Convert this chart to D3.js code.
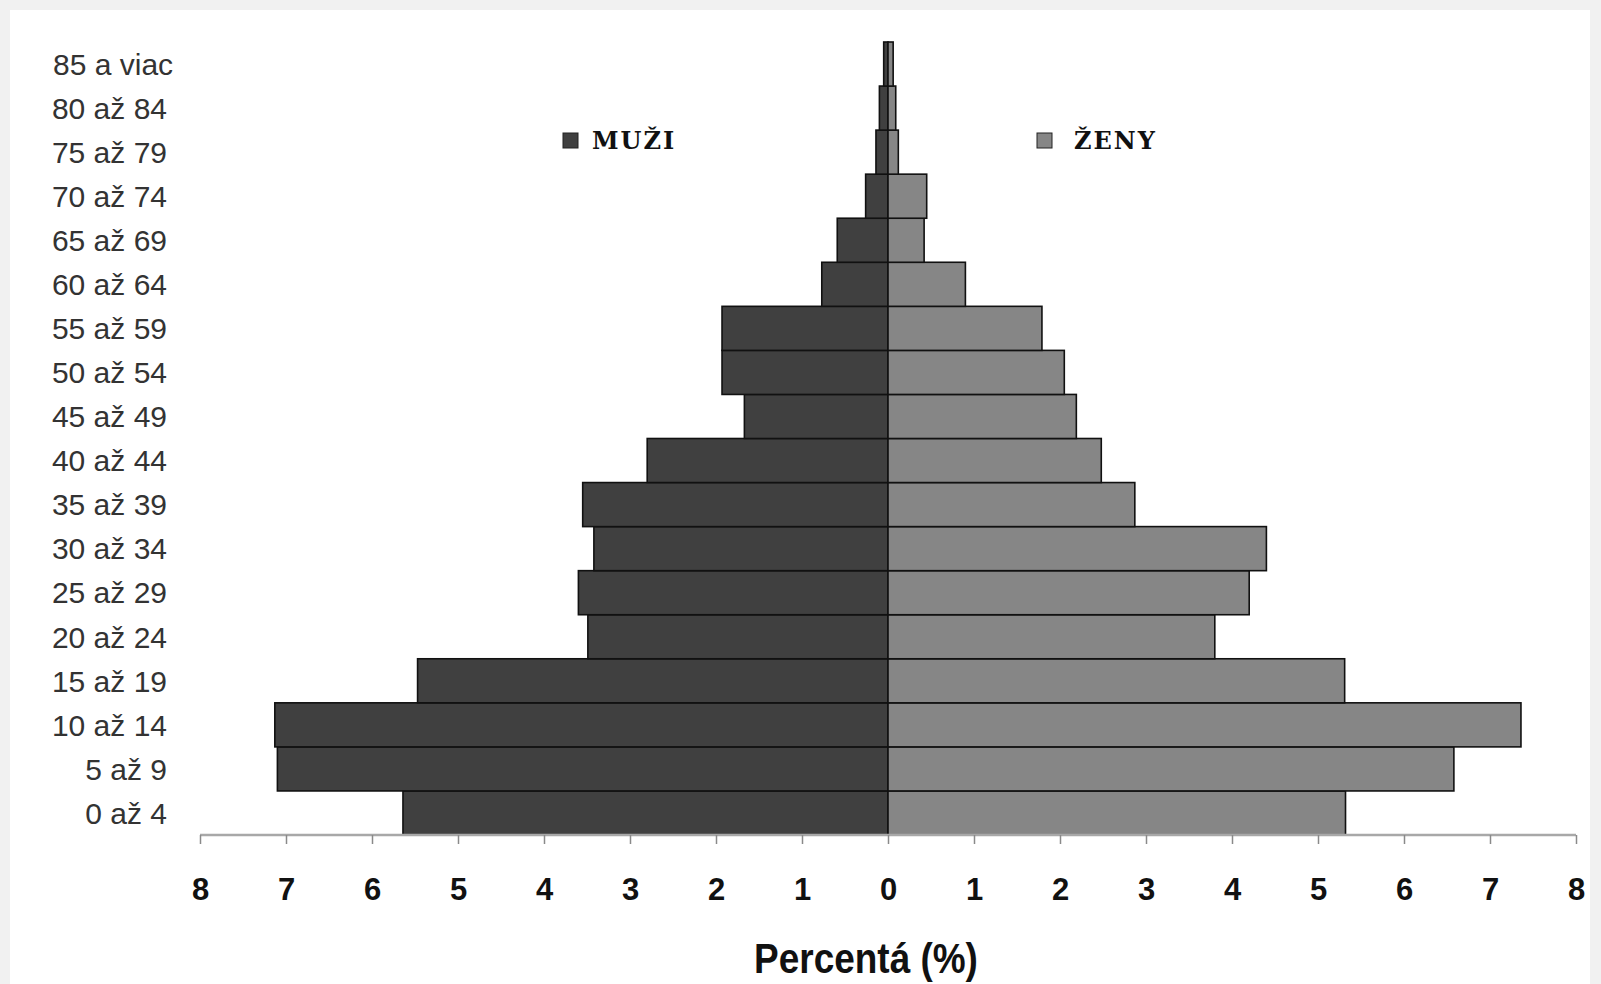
<!DOCTYPE html>
<html>
<head>
<meta charset="utf-8">
<script src="https://cdn.jsdelivr.net/npm/d3@7"></script>
<style>
  html, body { margin: 0; padding: 0; background: #f1f1f1; }
  svg { display: block; }
</style>
</head>
<body>
<svg id="chart" width="1601" height="984"></svg>
<script>
// Age groups, from youngest to oldest
const ageGroups = ["0 až 4","5 až 9","10 až 14","15 až 19","20 až 24","25 až 29","30 až 34","35 až 39","40 až 44","45 až 49","50 až 54","55 až 59","60 až 64","65 až 69","70 až 74","75 až 79","80 až 84","85 a viac"];
// Percent of population
const muzi = [5.64, 7.10, 7.13, 5.47, 3.49, 3.60, 3.42, 3.55, 2.80, 1.67, 1.93, 1.93, 0.77, 0.59, 0.26, 0.14, 0.10, 0.05];
const zeny = [5.32, 6.58, 7.36, 5.31, 3.80, 4.20, 4.40, 2.87, 2.48, 2.19, 2.05, 1.79, 0.90, 0.42, 0.45, 0.12, 0.09, 0.06];
const ticks = [-8,-7,-6,-5,-4,-3,-2,-1,0,1,2,3,4,5,6,7,8];
const seriesNames = ["MUŽI", "ŽENY"];
const axisTitle = "Percentá (%)";

const svg = d3.select("#chart");
// white panel
svg.append("rect").attr("x", 10).attr("y", 10).attr("width", 1580).attr("height", 974).attr("fill", "#ffffff");

const x = d3.scaleLinear().domain([-8, 8]).range([200, 1576]);
const y = d3.scaleBand().domain(ageGroups.slice().reverse()).range([42, 835]).padding(0);

const colM = "#404040", colZ = "#868686";
const sans = "'Liberation Sans Narrow', 'Liberation Sans', Arial, sans-serif";

const rows = ageGroups.map((g, i) => ({ g, m: muzi[i], z: zeny[i] }));

// men bars (left)
svg.append("g").selectAll("rect").data(rows).join("rect")
  .attr("x", d => x(-d.m))
  .attr("y", d => y(d.g))
  .attr("width", d => x(0) - x(-d.m))
  .attr("height", y.bandwidth())
  .attr("fill", colM)
  .attr("stroke", "#111")
  .attr("stroke-width", 1.6);

// women bars (right)
svg.append("g").selectAll("rect").data(rows).join("rect")
  .attr("x", x(0))
  .attr("y", d => y(d.g))
  .attr("width", d => x(d.z) - x(0))
  .attr("height", y.bandwidth())
  .attr("fill", colZ)
  .attr("stroke", "#111")
  .attr("stroke-width", 1.6);

// x axis
const axis = d3.axisBottom(x).tickValues(ticks).tickSize(9).tickPadding(34)
  .tickFormat(d => Math.abs(d));
const ax = svg.append("g").attr("transform", "translate(0,835)").call(axis);
ax.select(".domain").attr("stroke", "#a8a8a8").attr("stroke-width", 2.5).attr("d", `M${x(-8)},0H${x(8)}`);
ax.selectAll(".tick line").attr("stroke", "#8a8a8a").attr("stroke-width", 1.5);
ax.selectAll(".tick text")
  .attr("font-family", sans)
  .attr("font-weight", "bold")
  .attr("font-size", 31)
  .attr("fill", "#111");

// y labels
svg.append("g").selectAll("text").data(ageGroups).join("text")
  .attr("x", (d, i) => i === ageGroups.length - 1 ? 53 : 167)
  .attr("text-anchor", (d, i) => i === ageGroups.length - 1 ? "start" : "end")
  .attr("y", d => y(d) + y.bandwidth() / 2)
  .attr("dy", "0.36em")
  .attr("font-family", sans)
  .attr("font-size", 30)
  .attr("fill", "#333")
  .text(d => d);

// legend
const legend = [
  { name: seriesNames[0], color: colM, sx: 563, tx: 592 },
  { name: seriesNames[1], color: colZ, sx: 1037, tx: 1074 }
];
const lg = svg.append("g").selectAll("g").data(legend).join("g");
lg.append("rect").attr("x", d => d.sx).attr("y", 133).attr("width", 15).attr("height", 15)
  .attr("fill", d => d.color).attr("stroke", "#222").attr("stroke-width", 1);
lg.append("text").attr("x", d => d.tx).attr("y", 149)
  .attr("font-family", "'DejaVu Serif', 'Liberation Serif', serif")
  .attr("font-weight", "bold")
  .attr("font-size", 24)
  .attr("letter-spacing", 2)
  .attr("fill", "#111")
  .text(d => d.name);

// axis title
svg.append("text")
  .attr("transform", "translate(866,973) scale(0.88,1)")
  .attr("text-anchor", "middle")
  .attr("font-family", sans)
  .attr("font-weight", "bold")
  .attr("font-size", 42)
  .attr("fill", "#111")
  .text(axisTitle);
</script>
</body>
</html>
